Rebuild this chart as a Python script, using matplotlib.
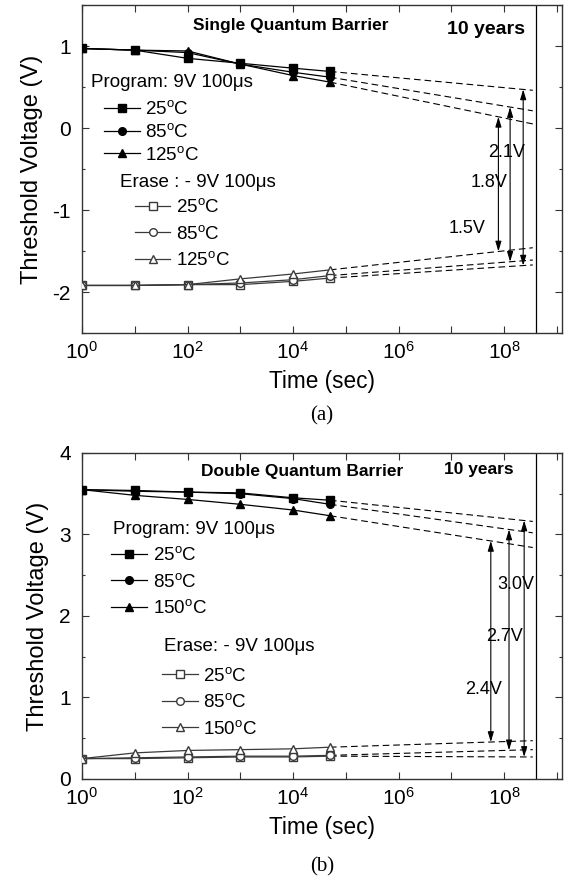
import matplotlib.pyplot as plt
import numpy as np
from matplotlib.lines import Line2D
from matplotlib.ticker import FixedLocator, FuncFormatter, MultipleLocator

plt.rcParams['font.family'] = ['Liberation Sans', 'DejaVu Sans']
plt.rcParams['mathtext.fontset'] = 'custom'
plt.rcParams['mathtext.rm'] = 'Liberation Sans'
plt.rcParams['mathtext.it'] = 'Liberation Sans:italic'
plt.rcParams['mathtext.bf'] = 'Liberation Sans:bold'
plt.rcParams['axes.unicode_minus'] = False

# measured retention times (s) and end of the 10-year extrapolation
time = [1, 10, 100, 1e3, 1e4, 5e4]
t_extrap = 3.5e8
t_10years = 4.1e8

# (a) single quantum barrier
a_temps = ['25', '85', '125']
a_prog_25 = [0.97, 0.95, 0.85, 0.79, 0.73, 0.69]
a_prog_85 = [0.97, 0.95, 0.92, 0.78, 0.68, 0.62]
a_prog_125 = [0.97, 0.95, 0.94, 0.78, 0.64, 0.56]
a_erase_25 = [-1.92, -1.92, -1.91, -1.91, -1.87, -1.83]
a_erase_85 = [-1.92, -1.92, -1.91, -1.89, -1.85, -1.80]
a_erase_125 = [-1.92, -1.92, -1.91, -1.84, -1.78, -1.73]
a_prog_10y = [0.46, 0.21, 0.05]
a_erase_10y = [-1.67, -1.61, -1.46]
a_window_t = [2.3e8, 1.3e8, 7.8e7]
a_window_lbl = ['2.1V', '1.8V', '1.5V']
a_lbl_t = [1.1e8, 5.2e7, 2.0e7]
a_lbl_v = [-0.30, -0.67, -1.23]

# (b) double quantum barrier
b_temps = ['25', '85', '150']
b_prog_25 = [3.55, 3.54, 3.52, 3.51, 3.45, 3.42]
b_prog_85 = [3.55, 3.53, 3.52, 3.50, 3.44, 3.37]
b_prog_150 = [3.55, 3.48, 3.43, 3.37, 3.30, 3.23]
b_erase_25 = [0.25, 0.25, 0.26, 0.27, 0.27, 0.28]
b_erase_85 = [0.25, 0.26, 0.27, 0.28, 0.28, 0.29]
b_erase_150 = [0.25, 0.32, 0.35, 0.36, 0.37, 0.39]
b_prog_10y = [3.16, 3.02, 2.84]
b_erase_10y = [0.27, 0.36, 0.47]
b_window_t = [2.4e8, 1.24e8, 5.6e7]
b_window_lbl = ['3.0V', '2.7V', '2.4V']
b_lbl_t = [1.67e8, 1.02e8, 4.0e7]
b_lbl_v = [2.38, 1.75, 1.10]

markers = ['s', 'o', '^']
GREY = '#3a3a3a'
erase_title = {'a': u'Erase : - 9V 100\u03bcs', 'b': u'Erase: - 9V 100\u03bcs'}


def extrap(t, v_last, v_10y):
    # straight line in log(t) between last measurement and 10-year point
    lt = np.log10([time[-1], t_extrap])
    return np.interp(np.log10(t), lt, [v_last, v_10y])


def key(m, filled):
    return Line2D([], [], color='k' if filled else GREY, lw=0.9, marker=m,
                  ms=5.5, mfc='k' if filled else 'white', mec='k' if filled else GREY)


def decade_fmt(v, pos):
    e = int(round(np.log10(v)))
    return r'$10^{%d}$' % e if e % 2 == 0 else ''


def panel(ax, prog, erase, prog_10y, erase_10y, temps, win_t, win_lbl, lbl_t, lbl_v,
          title, title_xy, yrs_xy, yrs_fs, ylim, prog_pos, erase_pos, prog_sp, erase_sp):
    for i in range(3):
        ax.plot(time, prog[i], '-', color='k', lw=0.9, marker=markers[i], ms=5.5,
                mfc='k', mec='k', zorder=3)
        ax.plot(time, erase[i], '-', color=GREY, lw=0.9, marker=markers[i], ms=5.5,
                mfc='white', mec=GREY, zorder=3)
        ax.plot([time[-1], t_extrap], [prog[i][-1], prog_10y[i]], '--', color='k',
                lw=0.8, dashes=(6, 3.5))
        ax.plot([time[-1], t_extrap], [erase[i][-1], erase_10y[i]], '--', color='k',
                lw=0.8, dashes=(6, 3.5))
        top = extrap(win_t[i], prog[i][-1], prog_10y[i])
        bot = extrap(win_t[i], erase[i][-1], erase_10y[i])
        ax.annotate('', xy=(win_t[i], top), xytext=(win_t[i], bot),
                    arrowprops=dict(arrowstyle='<|-|>,head_length=0.6,head_width=0.18',
                                    lw=0.8, color='k', mutation_scale=10,
                                    shrinkA=0, shrinkB=0))
        ax.text(lbl_t[i], lbl_v[i], win_lbl[i], fontsize=13, ha='center', va='center')

    ax.axvline(t_10years, color='k', lw=0.9)
    ax.text(*title_xy, title, fontsize=12.5, fontweight='bold', ha='center', va='center')
    ax.text(*yrs_xy, '10 years', fontsize=yrs_fs, fontweight='bold', ha='center', va='center')

    # legend blocks
    labels = [r'%s$^{\rm o}$C' % t for t in temps]
    tx, ty, hx, hy = prog_pos
    ax.text(tx, ty, u'Program: 9V 100\u03bcs', fontsize=13.5, va='center')
    lg1 = ax.legend([key(m, True) for m in markers], labels, loc='center left',
                    bbox_to_anchor=(hx, hy), bbox_transform=ax.transData, frameon=False,
                    fontsize=13.5, handlelength=1.9, handletextpad=0.3, borderpad=0,
                    borderaxespad=0, labelspacing=prog_sp)
    ax.add_artist(lg1)
    tx, ty, hx, hy = erase_pos
    ax.text(tx, ty, erase_title[ax.get_label()], fontsize=13.5, va='center')
    ax.legend([key(m, False) for m in markers], labels, loc='center left',
              bbox_to_anchor=(hx, hy), bbox_transform=ax.transData, frameon=False,
              fontsize=13.5, handlelength=1.9, handletextpad=0.3, borderpad=0,
              borderaxespad=0, labelspacing=erase_sp)

    ax.set_xscale('log')
    ax.set_xlim(1, 1.25e9)
    ax.set_ylim(*ylim)
    ax.xaxis.set_major_locator(FixedLocator([10.0 ** k for k in range(10)]))
    ax.xaxis.set_major_formatter(FuncFormatter(decade_fmt))
    ax.yaxis.set_major_locator(MultipleLocator(1))
    ax.yaxis.set_minor_locator(MultipleLocator(0.5))
    ax.tick_params(which='both', direction='in', top=True, right=True, labelsize=15,
                   width=0.8, color='#333333')
    ax.tick_params(which='major', length=5)
    ax.tick_params(which='minor', length=2.5)
    ax.tick_params(axis='x', which='major', pad=6)
    ax.tick_params(axis='y', which='major', pad=8)
    for s in ax.spines.values():
        s.set_linewidth(1.0)
        s.set_color('#333333')
    ax.set_xlabel('Time (sec)', fontsize=16.3, labelpad=5)
    ax.set_ylabel('Threshold Voltage (V)', fontsize=17, labelpad=7)


fig = plt.figure(figsize=(5.64, 8.84), dpi=100)
ax1 = fig.add_axes([0.1454, 0.6233, 0.851, 0.371], label='a')
ax2 = fig.add_axes([0.1454, 0.1188, 0.851, 0.3688], label='b')

panel(ax1, [a_prog_25, a_prog_85, a_prog_125], [a_erase_25, a_erase_85, a_erase_125],
      a_prog_10y, a_erase_10y, a_temps, a_window_t, a_window_lbl, a_lbl_t, a_lbl_v,
      'Single Quantum Barrier', (9.1e3, 1.25), (4.6e7, 1.2), 14, (-2.5, 1.5),
      (1.51, 0.56, 2.63, -0.05), (5.2, -0.67, 10, -1.29), 0.25, 0.45)
panel(ax2, [b_prog_25, b_prog_85, b_prog_150], [b_erase_25, b_erase_85, b_erase_150],
      b_prog_10y, b_erase_10y, b_temps, b_window_t, b_window_lbl, b_lbl_t, b_lbl_v,
      'Double Quantum Barrier', (1.48e4, 3.77), (3.3e7, 3.80), 12.5, (0, 4),
      (3.9, 3.06, 3.6, 2.42), (35.5, 1.62, 33, 0.94), 0.45, 0.45)

fig.text(0.571, 1 - 416 / 884, '(a)', fontsize=15, family='Liberation Serif',
         ha='center', va='center')
fig.text(0.571, 1 - 867 / 884, '(b)', fontsize=15, family='Liberation Serif',
         ha='center', va='center')

fig.savefig('out.png', dpi=100)
